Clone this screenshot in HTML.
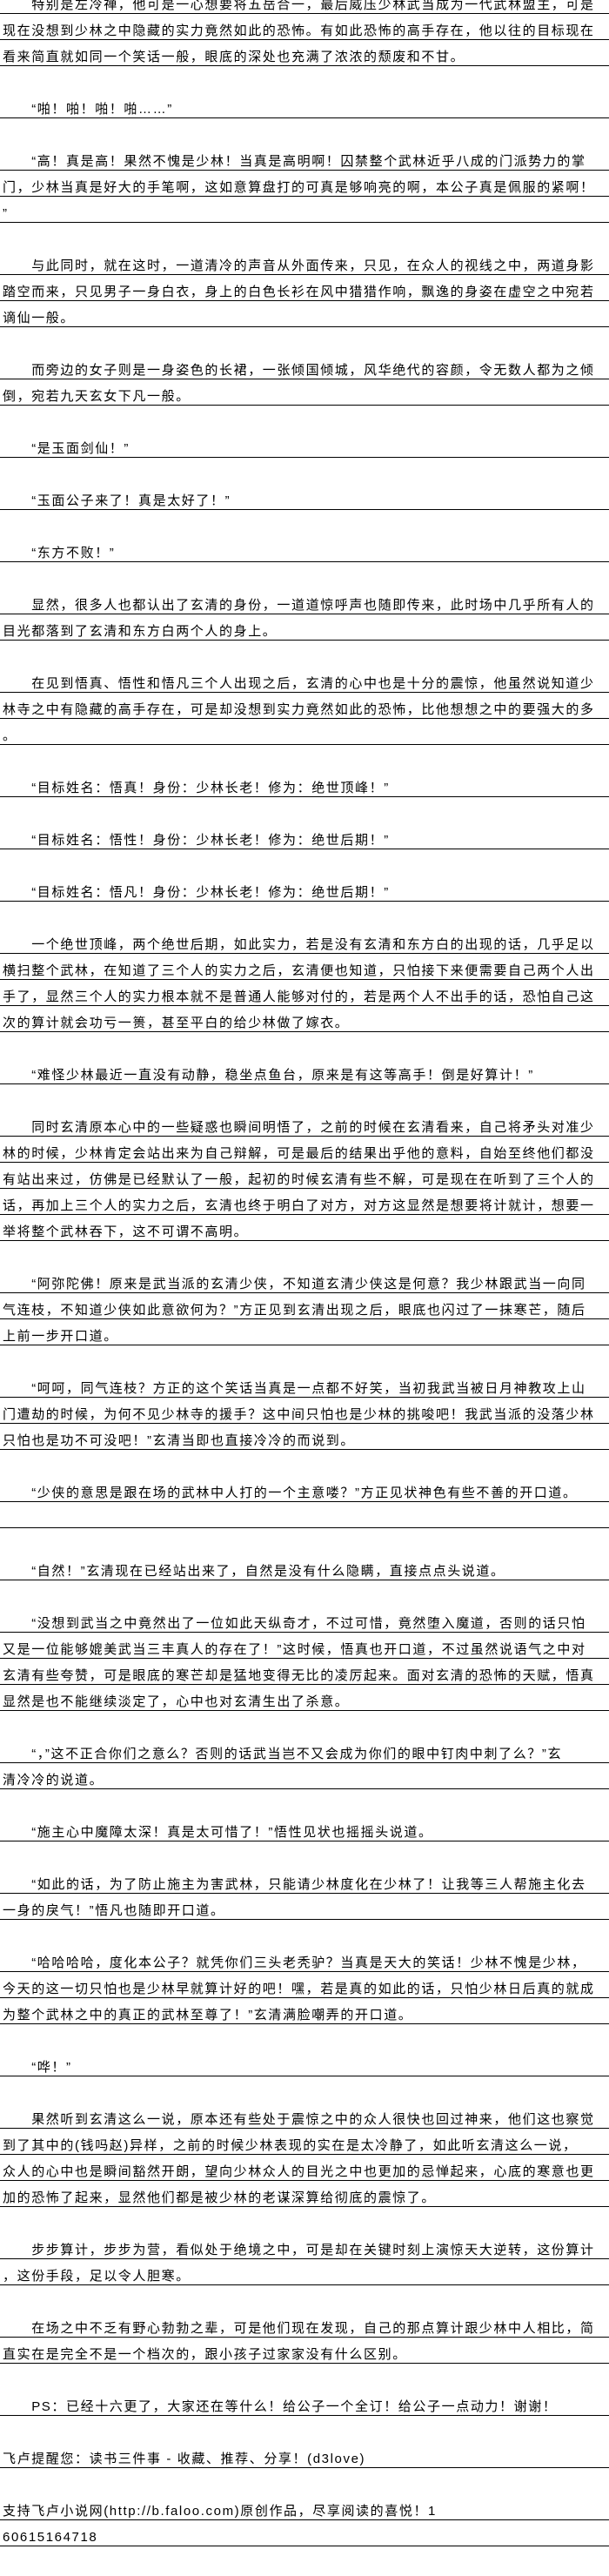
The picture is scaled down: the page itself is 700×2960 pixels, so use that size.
<!DOCTYPE html>
<html><head><meta charset="utf-8"><style>
html,body{margin:0;padding:0;background:#fff;}
body{width:700px;height:2960px;overflow:hidden;position:relative;}
#c{position:absolute;top:-14px;left:0;width:700px;}
.l,.b{height:29px;box-sizing:content-box;white-space:nowrap;overflow:hidden;
 font-family:"Liberation Sans","Noto Sans CJK SC","WenQuanYi Zen Hei",sans-serif;
 font-size:15px;letter-spacing:1.6px;color:#000;line-height:19px;padding-left:3px;}
.l{border-bottom:1px solid #000;height:19px;padding-top:10px;}
.b{height:30px;}
</style></head><body><div id="c">
<div class="l">　　特别是左冷禅，他可是一心想要将五岳合一，最后威压少林武当成为一代武林盟主，可是</div>
<div class="l">现在没想到少林之中隐藏的实力竟然如此的恐怖。有如此恐怖的高手存在，他以往的目标现在</div>
<div class="l">看来简直就如同一个笑话一般，眼底的深处也充满了浓浓的颓废和不甘。</div>
<div class="b"></div>
<div class="l">　　“啪！啪！啪！啪……”</div>
<div class="b"></div>
<div class="l">　　“高！真是高！果然不愧是少林！当真是高明啊！囚禁整个武林近乎八成的门派势力的掌</div>
<div class="l">门，少林当真是好大的手笔啊，这如意算盘打的可真是够响亮的啊，本公子真是佩服的紧啊！</div>
<div class="l">”</div>
<div class="b"></div>
<div class="l">　　与此同时，就在这时，一道清冷的声音从外面传来，只见，在众人的视线之中，两道身影</div>
<div class="l">踏空而来，只见男子一身白衣，身上的白色长衫在风中猎猎作响，飘逸的身姿在虚空之中宛若</div>
<div class="l">谪仙一般。</div>
<div class="b"></div>
<div class="l">　　而旁边的女子则是一身姿色的长裙，一张倾国倾城，风华绝代的容颜，令无数人都为之倾</div>
<div class="l">倒，宛若九天玄女下凡一般。</div>
<div class="b"></div>
<div class="l">　　“是玉面剑仙！”</div>
<div class="b"></div>
<div class="l">　　“玉面公子来了！真是太好了！”</div>
<div class="b"></div>
<div class="l">　　“东方不败！”</div>
<div class="b"></div>
<div class="l">　　显然，很多人也都认出了玄清的身份，一道道惊呼声也随即传来，此时场中几乎所有人的</div>
<div class="l">目光都落到了玄清和东方白两个人的身上。</div>
<div class="b"></div>
<div class="l">　　在见到悟真、悟性和悟凡三个人出现之后，玄清的心中也是十分的震惊，他虽然说知道少</div>
<div class="l">林寺之中有隐藏的高手存在，可是却没想到实力竟然如此的恐怖，比他想想之中的要强大的多</div>
<div class="l">。</div>
<div class="b"></div>
<div class="l">　　“目标姓名：悟真！身份：少林长老！修为：绝世顶峰！”</div>
<div class="b"></div>
<div class="l">　　“目标姓名：悟性！身份：少林长老！修为：绝世后期！”</div>
<div class="b"></div>
<div class="l">　　“目标姓名：悟凡！身份：少林长老！修为：绝世后期！”</div>
<div class="b"></div>
<div class="l">　　一个绝世顶峰，两个绝世后期，如此实力，若是没有玄清和东方白的出现的话，几乎足以</div>
<div class="l">横扫整个武林，在知道了三个人的实力之后，玄清便也知道，只怕接下来便需要自己两个人出</div>
<div class="l">手了，显然三个人的实力根本就不是普通人能够对付的，若是两个人不出手的话，恐怕自己这</div>
<div class="l">次的算计就会功亏一篑，甚至平白的给少林做了嫁衣。</div>
<div class="b"></div>
<div class="l">　　“难怪少林最近一直没有动静，稳坐点鱼台，原来是有这等高手！倒是好算计！”</div>
<div class="b"></div>
<div class="l">　　同时玄清原本心中的一些疑惑也瞬间明悟了，之前的时候在玄清看来，自己将矛头对准少</div>
<div class="l">林的时候，少林肯定会站出来为自己辩解，可是最后的结果出乎他的意料，自始至终他们都没</div>
<div class="l">有站出来过，仿佛是已经默认了一般，起初的时候玄清有些不解，可是现在在听到了三个人的</div>
<div class="l">话，再加上三个人的实力之后，玄清也终于明白了对方，对方这显然是想要将计就计，想要一</div>
<div class="l">举将整个武林吞下，这不可谓不高明。</div>
<div class="b"></div>
<div class="l">　　“阿弥陀佛！原来是武当派的玄清少侠，不知道玄清少侠这是何意？我少林跟武当一向同</div>
<div class="l">气连枝，不知道少侠如此意欲何为？”方正见到玄清出现之后，眼底也闪过了一抹寒芒，随后</div>
<div class="l">上前一步开口道。</div>
<div class="b"></div>
<div class="l">　　“呵呵，同气连枝？方正的这个笑话当真是一点都不好笑，当初我武当被日月神教攻上山</div>
<div class="l">门遭劫的时候，为何不见少林寺的援手？这中间只怕也是少林的挑唆吧！我武当派的没落少林</div>
<div class="l">只怕也是功不可没吧！”玄清当即也直接冷冷的而说到。</div>
<div class="b"></div>
<div class="l">　　“少侠的意思是跟在场的武林中人打的一个主意喽？”方正见状神色有些不善的开口道。</div>
<div class="l"></div>
<div class="b"></div>
<div class="l">　　“自然！”玄清现在已经站出来了，自然是没有什么隐瞒，直接点点头说道。</div>
<div class="b"></div>
<div class="l">　　“没想到武当之中竟然出了一位如此天纵奇才，不过可惜，竟然堕入魔道，否则的话只怕</div>
<div class="l">又是一位能够媲美武当三丰真人的存在了！”这时候，悟真也开口道，不过虽然说语气之中对</div>
<div class="l">玄清有些夸赞，可是眼底的寒芒却是猛地变得无比的凌厉起来。面对玄清的恐怖的天赋，悟真</div>
<div class="l">显然是也不能继续淡定了，心中也对玄清生出了杀意。</div>
<div class="b"></div>
<div class="l">　　“，”这不正合你们之意么？否则的话武当岂不又会成为你们的眼中钉肉中刺了么？”玄</div>
<div class="l">清冷冷的说道。</div>
<div class="b"></div>
<div class="l">　　“施主心中魔障太深！真是太可惜了！”悟性见状也摇摇头说道。</div>
<div class="b"></div>
<div class="l">　　“如此的话，为了防止施主为害武林，只能请少林度化在少林了！让我等三人帮施主化去</div>
<div class="l">一身的戾气！”悟凡也随即开口道。</div>
<div class="b"></div>
<div class="l">　　“哈哈哈哈，度化本公子？就凭你们三头老秃驴？当真是天大的笑话！少林不愧是少林，</div>
<div class="l">今天的这一切只怕也是少林早就算计好的吧！嘿，若是真的如此的话，只怕少林日后真的就成</div>
<div class="l">为整个武林之中的真正的武林至尊了！”玄清满脸嘲弄的开口道。</div>
<div class="b"></div>
<div class="l">　　“哗！”</div>
<div class="b"></div>
<div class="l">　　果然听到玄清这么一说，原本还有些处于震惊之中的众人很快也回过神来，他们这也察觉</div>
<div class="l">到了其中的(钱吗赵)异样，之前的时候少林表现的实在是太冷静了，如此听玄清这么一说，</div>
<div class="l">众人的心中也是瞬间豁然开朗，望向少林众人的目光之中也更加的忌惮起来，心底的寒意也更</div>
<div class="l">加的恐怖了起来，显然他们都是被少林的老谋深算给彻底的震惊了。</div>
<div class="b"></div>
<div class="l">　　步步算计，步步为营，看似处于绝境之中，可是却在关键时刻上演惊天大逆转，这份算计</div>
<div class="l">，这份手段，足以令人胆寒。</div>
<div class="b"></div>
<div class="l">　　在场之中不乏有野心勃勃之辈，可是他们现在发现，自己的那点算计跟少林中人相比，简</div>
<div class="l">直实在是完全不是一个档次的，跟小孩子过家家没有什么区别。</div>
<div class="b"></div>
<div class="l">　　PS：已经十六更了，大家还在等什么！给公子一个全订！给公子一点动力！谢谢！</div>
<div class="b"></div>
<div class="l">飞卢提醒您：读书三件事 - 收藏、推荐、分享！(d3love)</div>
<div class="b"></div>
<div class="l">支持飞卢小说网(http://b.faloo.com)原创作品，尽享阅读的喜悦！1</div>
<div class="l">60615164718</div>
</div></body></html>
